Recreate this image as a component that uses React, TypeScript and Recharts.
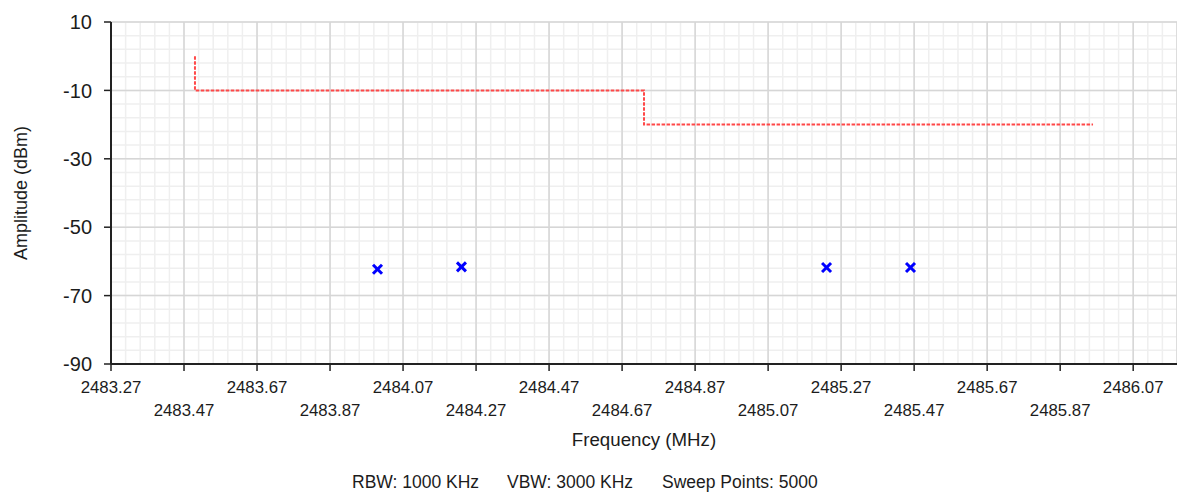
import { CartesianGrid, Label, Scatter, ScatterChart, XAxis, YAxis } from 'recharts';

// frequency axis (MHz) and amplitude axis (dBm)
const xTicks = [
  2483.27, 2483.47, 2483.67, 2483.87, 2484.07, 2484.27, 2484.47, 2484.67, 2484.87, 2485.07, 2485.27,
  2485.47, 2485.67, 2485.87, 2486.07,
];
const yTicks = [10, -10, -30, -50, -70, -90];
const xDomain = [2483.27, 2486.19];
const yDomain = [-90, 10];

// limit mask (red dashed step line)
const limitFreq = [2483.5, 2483.5, 2484.73, 2484.73, 2485.96];
const limitAmp = [0, -10, -10, -20, -20];

// measured peaks (blue crosses)
const peakFreq = [2484.0, 2484.23, 2485.23, 2485.46];
const peakAmp = [-62.3, -61.6, -61.8, -61.8];

const infoTexts = ['RBW: 1000 KHz', 'VBW: 3000 KHz', 'Sweep Points: 5000'];

const limitData = limitFreq.map((x, i) => ({ x, y: limitAmp[i] }));
const peakData = peakFreq.map((x, i) => ({ x, y: peakAmp[i] }));

// minor grid: 5 subdivisions per major step
const minorX: number[] = [];
for (let v = xDomain[0]; v <= xDomain[1] + 1e-9; v += 0.04) minorX.push(Number(v.toFixed(2)));
const minorY: number[] = [];
for (let v = yDomain[0]; v <= yDomain[1]; v += 4) minorY.push(v);

const font = '"Liberation Sans", Arial, sans-serif';
const textColor = '#1c1c1c';

function XTick(props: any) {
  const { x, y, payload, index } = props;
  return (
    <text x={x} y={y + (index % 2 ? 45 : 22)} textAnchor="middle" fontSize={16.8} fontFamily={font} fill={textColor}>
      {Number(payload.value).toFixed(2)}
    </text>
  );
}

function Cross(props: any) {
  const { cx, cy } = props;
  const r = 4.5;
  return (
    <g stroke="#0000ff" strokeWidth={3}>
      <line x1={cx - r} y1={cy - r} x2={cx + r} y2={cy + r} />
      <line x1={cx - r} y1={cy + r} x2={cx + r} y2={cy - r} />
    </g>
  );
}

export default function App() {
  return (
    <div style={{ position: 'absolute', left: 0, top: 0, background: '#fff' }}>
      <ScatterChart width={1177} height={495} margin={{ top: 22, right: 0, bottom: 71, left: 0 }}>
        <CartesianGrid stroke="#efefef" strokeWidth={1.5} verticalValues={minorX} horizontalValues={minorY} />
        <CartesianGrid stroke="#d6d6d6" strokeWidth={1.5} />
        <XAxis
          type="number"
          dataKey="x"
          domain={xDomain}
          ticks={xTicks}
          allowDataOverflow
          height={60}
          tickSize={7}
          tickMargin={0}
          interval={0}
          axisLine={{ stroke: '#222', strokeWidth: 2 }}
          tickLine={{ stroke: '#222', strokeWidth: 1.5 }}
          tick={<XTick />}
          label={
            <Label
              content={({ viewBox }: any) => (
                <text
                  x={viewBox.x + viewBox.width / 2}
                  y={viewBox.y + 82}
                  textAnchor="middle"
                  fontSize={18.7}
                  fontFamily={font}
                  fill={textColor}
                >
                  Frequency (MHz)
                </text>
              )}
            />
          }
        />
        <YAxis
          type="number"
          dataKey="y"
          domain={yDomain}
          ticks={yTicks}
          allowDataOverflow
          width={111}
          tickSize={7}
          tickMargin={12}
          interval={0}
          axisLine={{ stroke: '#222', strokeWidth: 2 }}
          tickLine={{ stroke: '#222', strokeWidth: 1.5 }}
          tick={{ fontSize: 20, fontFamily: font, fill: textColor }}
          label={
            <Label
              content={({ viewBox }: any) => {
                const cx = viewBox.x + 21;
                const cy = viewBox.y + viewBox.height / 2;
                return (
                  <text
                    x={cx}
                    y={cy}
                    transform={`rotate(-90, ${cx}, ${cy})`}
                    textAnchor="middle"
                    dominantBaseline="central"
                    fontSize={18}
                    fontFamily={font}
                    fill={textColor}
                  >
                    Amplitude (dBm)
                  </text>
                );
              }}
            />
          }
        />
        <Scatter
          data={limitData}
          line={{ stroke: '#ff4848', strokeWidth: 2, strokeDasharray: '3.5 1.5' }}
          lineType="joint"
          shape={() => <g />}
          isAnimationActive={false}
        />
        <Scatter data={peakData} shape={<Cross />} isAnimationActive={false} />
        <text x={352} y={488} fontSize={17.5} fontFamily={font} fill={textColor}>
          {infoTexts[0]}
        </text>
        <text x={507} y={488} fontSize={17.5} fontFamily={font} fill={textColor}>
          {infoTexts[1]}
        </text>
        <text x={662} y={488} fontSize={17.5} fontFamily={font} fill={textColor}>
          {infoTexts[2]}
        </text>
      </ScatterChart>
    </div>
  );
}
